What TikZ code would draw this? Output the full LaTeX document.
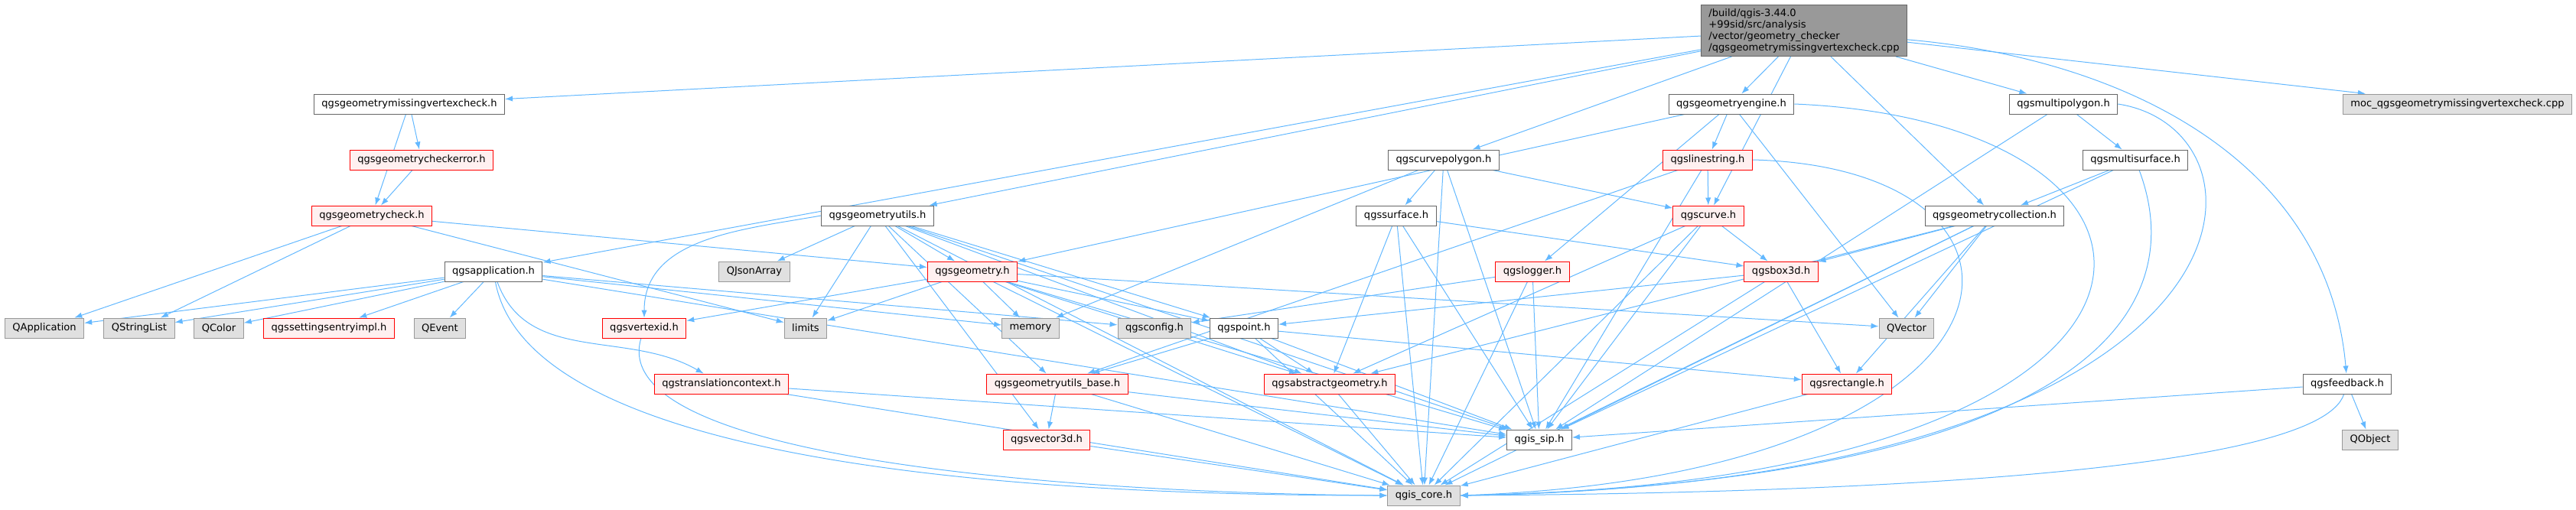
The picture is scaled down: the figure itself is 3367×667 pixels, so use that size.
\documentclass[tikz,border=0pt]{standalone}
\usepackage{fontspec}
\setmainfont{DejaVu Sans}
\usetikzlibrary{arrows.meta,backgrounds}

\definecolor{edgeblue}{HTML}{63B8FF}
\definecolor{boxgray}{HTML}{E0E0E0}
\definecolor{boxred}{HTML}{FFF0F0}
\definecolor{rootgray}{HTML}{999999}

\begin{document}
\begin{tikzpicture}[x=0.75pt,y=-0.75pt,
    file/.style={draw=black!60,fill=white,line width=0.75pt,minimum height=19.5pt,
        inner xsep=7.5pt,inner ysep=2pt,font=\fontsize{9.8}{11.25}\selectfont},
    trunc/.style={file,draw=red,fill=boxred},
    extern/.style={file,draw=black!40,fill=boxgray},
    edge/.style={draw=edgeblue,line width=0.75pt,-{Latex[length=7.5pt,width=5.5pt]}}]

\useasboundingbox (0,0) rectangle (3367,667);

% root
    \node[file,fill=rootgray,align=left,inner ysep=3.5pt] (root) at (2358,40)
        {/build/qgis-3.44.0\\+99sid/src/analysis\\/vector/geometry\_checker\\/qgsgeometrymissingvertexcheck.cpp};

% headers
    \node[file]   (mvc)  at (535,136)  {qgsgeometrymissingvertexcheck.h};
    \node[trunc]  (err)  at (551,209)  {qgsgeometrycheckerror.h};
    \node[trunc]  (chk)  at (486,282)  {qgsgeometrycheck.h};
    \node[file]   (app)  at (645,355)  {qgsapplication.h};
    \node[extern] (qapp) at (58,429)   {QApplication};
    \node[extern] (qsl)  at (182,429)  {QStringList};
    \node[extern] (qcol) at (286,429)  {QColor};
    \node[trunc]  (sei)  at (430,429)  {qgssettingsentryimpl.h};
    \node[extern] (qev)  at (575,429)  {QEvent};
    \node[trunc]  (vid)  at (842,429)  {qgsvertexid.h};
    \node[extern] (qja)  at (986,355)  {QJsonArray};
    \node[extern] (lim)  at (1053,429) {limits};
    \node[trunc]  (trc)  at (943,502)  {qgstranslationcontext.h};
    \node[file]   (gut)  at (1147,282) {qgsgeometryutils.h};
    \node[file]   (cpg)  at (1887,209) {qgscurvepolygon.h};
    \node[file]   (srf)  at (1825,282) {qgssurface.h};
    \node[trunc]  (geo)  at (1271,355) {qgsgeometry.h};
    \node[extern] (mem)  at (1347,429) {memory};
    \node[extern] (cfg)  at (1509,429) {qgsconfig.h};
    \node[file]   (pnt)  at (1626,429) {qgspoint.h};
    \node[trunc]  (log)  at (2003,355) {qgslogger.h};
    \node[trunc]  (gub)  at (1382,502) {qgsgeometryutils\_base.h};
    \node[trunc]  (abs)  at (1738,502) {qgsabstractgeometry.h};
    \node[trunc]  (v3d)  at (1368,575) {qgsvector3d.h};
    \node[file]   (sip)  at (2012,575) {qgis\_sip.h};
    \node[extern] (core) at (1861,648) {qgis\_core.h};
    \node[file]   (eng)  at (2263,136) {qgsgeometryengine.h};
    \node[file]   (mpl)  at (2697,136) {qgsmultipolygon.h};
    \node[extern] (moc)  at (3212,136) {moc\_qgsgeometrymissingvertexcheck.cpp};
    \node[trunc]  (lin)  at (2232,209) {qgslinestring.h};
    \node[file]   (msf)  at (2791,209) {qgsmultisurface.h};
    \node[trunc]  (crv)  at (2233,282) {qgscurve.h};
    \node[file]   (col)  at (2607,282) {qgsgeometrycollection.h};
    \node[trunc]  (box)  at (2328,355) {qgsbox3d.h};
    \node[extern] (qvec) at (2492,429) {QVector};
    \node[trunc]  (rct)  at (2414,502) {qgsrectangle.h};
    \node[file]   (fbk)  at (3068,502) {qgsfeedback.h};
    \node[extern] (qobj) at (3098,575) {QObject};

% includes
\begin{pgfonlayer}{background}
    \foreach \src/\dst in {root/mvc, root/app, root/gut, root/cpg, root/eng, root/crv,
        root/col, root/mpl, root/moc, mvc/chk, mvc/err, err/chk,
        chk/qapp, chk/qsl, chk/lim, chk/geo,
        app/qapp, app/qsl, app/qcol, app/sei, app/qev, app/sip, app/mem, app/cfg,
        trc/core, trc/sip,
        gut/qja, gut/lim, gut/geo, gut/gub, gut/pnt, gut/v3d, gut/core, gut/sip, gut/abs,
        geo/vid, geo/lim, geo/mem, geo/pnt, geo/abs, geo/core, geo/sip, geo/qvec,
        gub/v3d, gub/core, gub/sip, v3d/core,
        pnt/gub, pnt/abs, pnt/core, pnt/sip, pnt/rct, abs/core,
        log/cfg, log/core, log/sip, box/pnt, box/rct, box/core, rct/core,
        eng/geo, eng/lin, eng/log, eng/qvec,
        cpg/srf, cpg/crv, cpg/sip, cpg/mem, cpg/core,
        srf/abs, srf/box, srf/core, srf/sip,
        lin/crv, lin/gub, lin/sip, crv/abs, crv/box, crv/core, crv/sip,
        col/box, col/qvec, col/rct, col/core, col/sip, col/abs,
        mpl/msf, mpl/sip, msf/col, msf/sip, fbk/qobj, fbk/sip}
        \draw[edge] (\src) -- (\dst);

    \draw[edge] (root) to[out=-5,in=95] (fbk);
    \draw[edge] (gut.west) to[out=190,in=90] (vid.north);
    \draw[edge] (app) to[out=-70,in=150] (trc);
    \draw[edge] (app) .. controls (690,600) and (1300,648) .. (core.west);
    \draw[edge] (vid) .. controls (790,600) and (1400,645) .. (core.west);
    \draw[edge] (eng.east) .. controls (2920,160) and (2930,630) .. (core.east);
    \draw[edge] (mpl.east) .. controls (2990,170) and (2980,630) .. (core.east);
    \draw[edge] (msf) .. controls (2870,420) and (2700,630) .. (core.east);
    \draw[edge] (lin.east) .. controls (2720,220) and (2680,620) .. (core.east);
    \draw[edge] (fbk) .. controls (3030,620) and (2400,645) .. (core.east);
\end{pgfonlayer}

\end{tikzpicture}
\end{document}
